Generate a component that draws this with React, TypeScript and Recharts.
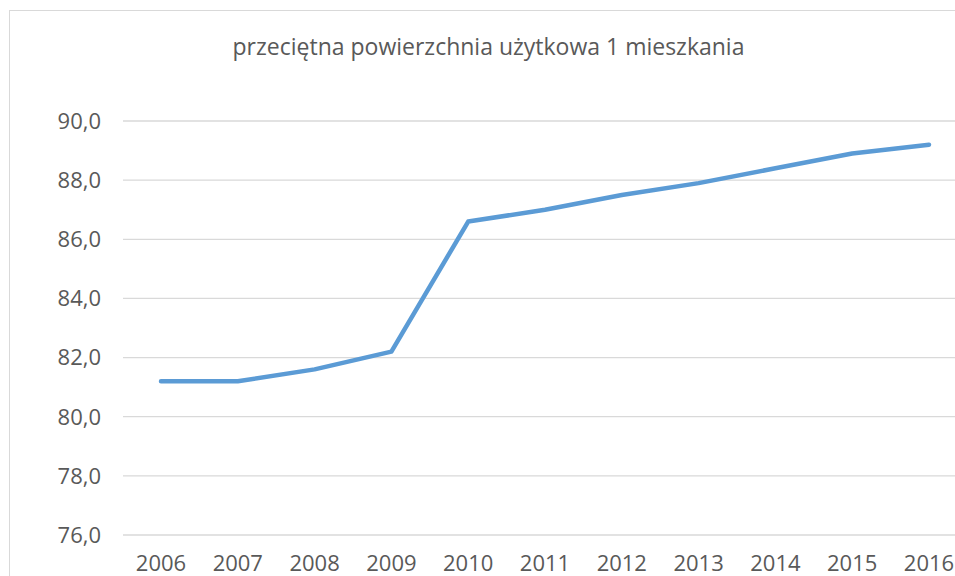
import { LineChart, Line, XAxis, YAxis, CartesianGrid } from 'recharts';

const years = ['2006', '2007', '2008', '2009', '2010', '2011', '2012', '2013', '2014', '2015', '2016'];
const avgArea = [81.2, 81.2, 81.6, 82.2, 86.6, 87.0, 87.5, 87.9, 88.4, 88.9, 89.2];
const yTicks = [76, 78, 80, 82, 84, 86, 88, 90];
const title = 'przeciętna powierzchnia użytkowa 1 mieszkania';

const data = years.map((year, i) => ({ year, value: avgArea[i] }));

const FONT = '"Open Sans", "Noto Sans", sans-serif';
const GREY = '#595959';

export default function App() {
  return (
    <div
      style={{
        position: 'fixed',
        left: 0,
        top: 0,
        width: 955,
        height: 576,
        overflow: 'hidden',
        background: '#fff',
        fontFamily: FONT,
      }}
    >
      <div
        style={{
          position: 'absolute',
          left: 9,
          top: 10,
          width: 1000,
          height: 600,
          border: '1px solid #d9d9d9',
          boxSizing: 'border-box',
        }}
      />
      <div
        style={{
          position: 'absolute',
          left: 0,
          top: 30,
          width: 977,
          textAlign: 'center',
          fontSize: 23,
          color: GREY,
          lineHeight: '32px',
        }}
      >
        {title}
      </div>
      <div style={{ position: 'absolute', left: 0, top: 0 }}>
        <LineChart width={1000} height={600} data={data} margin={{ top: 121, right: 33, bottom: 25, left: 0 }}>
          <CartesianGrid vertical={false} stroke="#d9d9d9" strokeWidth={1.3} />
          <XAxis
            dataKey="year"
            interval={0}
            height={40}
            padding={{ left: 38, right: 38 }}
            axisLine={false}
            tickLine={false}
            tickMargin={14}
            tick={{ fill: GREY, fontSize: 22, fontFamily: FONT }}
          />
          <YAxis
            width={123}
            domain={[76, 90]}
            ticks={yTicks}
            interval={0}
            axisLine={false}
            tickLine={false}
            tickMargin={16}
            tickFormatter={(v: number) => v.toFixed(1).replace('.', ',')}
            tick={{ fill: GREY, fontSize: 22, fontFamily: FONT }}
          />
          <Line
            type="linear"
            dataKey="value"
            stroke="#5b9bd5"
            strokeWidth={4.5}
            strokeLinecap="round"
            strokeLinejoin="round"
            dot={false}
            isAnimationActive={false}
          />
        </LineChart>
      </div>
    </div>
  );
}
